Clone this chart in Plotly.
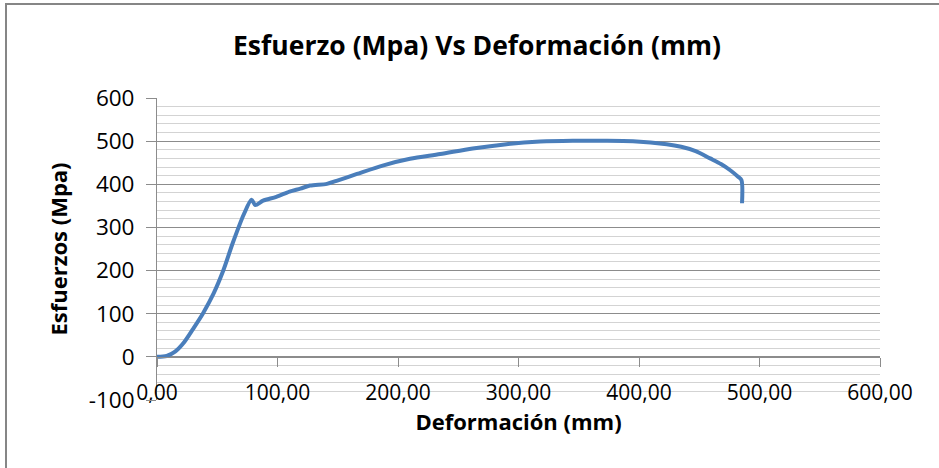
import plotly.graph_objects as go

# Stress-strain curve of the tensile test
deformacion_mm = [0, 8, 15, 22, 30, 38, 47, 55, 63, 72, 78.5, 81.5, 88, 99, 110, 119,
                  127, 141, 149, 166, 188, 210, 235, 262, 290, 318, 345, 368, 395,
                  423, 435, 447, 459, 468, 476, 482, 485, 485.5]
esfuerzo_mpa = [0, 2, 12, 32, 65, 100, 147, 200, 265, 330, 364, 352, 362, 371, 383, 390,
                397, 401, 408, 424, 444, 459, 470, 483, 493, 499, 501, 501, 500,
                493, 487, 477, 460, 447, 432, 418, 410, 356]

x_ticks = [0, 100, 200, 300, 400, 500, 600]
y_ticks = [-100, 0, 100, 200, 300, 400, 500, 600]
y_tick_labels = [str(v) for v in y_ticks]

W, H = 939, 468
ML, MR, MT, MB = 157, 59, 98, 68
pw, ph = W - ML - MR, H - MT - MB

FONT = "Open Sans"
AXIS_GRAY = "#8c8c8c"
MINOR_GRAY = "#d3d3d3"

fig = go.Figure()
fig.add_trace(go.Scatter(
    x=deformacion_mm, y=esfuerzo_mpa, mode="lines",
    line=dict(color="#4a7ebb", width=4, shape="spline", smoothing=0.8),
    showlegend=False, hoverinfo="x+y",
))
# empty trace so the crossing axis at y = 0 gets its own subplot
fig.add_trace(go.Scatter(x=[], y=[], xaxis="x2", yaxis="y", showlegend=False,
                         hoverinfo="skip"))

y0_frac = (0 - y_ticks[0]) / (y_ticks[-1] - y_ticks[0])
# tick labels of the horizontal axis sit just above the bottom edge
label_frac = 22 / ph

fig.update_layout(
    width=W, height=H,
    margin=dict(l=ML, r=MR, t=MT, b=MB),
    paper_bgcolor="white", plot_bgcolor="white",
    separators=",.",
    font=dict(family=FONT, size=21, color="#000000"),
    title=dict(text="<b>Esfuerzo (Mpa) Vs Deformación (mm)</b>",
               x=477 / W, xref="container", xanchor="center",
               y=1 - 46 / H, yref="container", yanchor="middle",
               font=dict(family=FONT, size=26.5, color="#000000")),
    xaxis=dict(range=[x_ticks[0], x_ticks[-1]], tickvals=x_ticks, tickformat=".2f",
               anchor="free", position=label_frac,
               ticks="", showgrid=False, zeroline=False,
               showline=False, tickfont=dict(size=21),
               title=dict(text="<b>Deformación (mm)</b>", standoff=6,
                          font=dict(size=22))),
    xaxis2=dict(range=[x_ticks[0], x_ticks[-1]], overlaying="x", anchor="free",
                position=y0_frac, showline=True, linecolor=AXIS_GRAY, linewidth=1,
                ticks="outside", ticklen=9, tickcolor=AXIS_GRAY, tickwidth=1,
                tickvals=x_ticks, showticklabels=False, showgrid=False,
                zeroline=False),
    yaxis=dict(range=[y_ticks[0], y_ticks[-1]], tickvals=y_ticks,
               ticktext=y_tick_labels,
               showgrid=True, gridcolor=AXIS_GRAY, gridwidth=1,
               minor=dict(dtick=20, showgrid=True, gridcolor=MINOR_GRAY, gridwidth=1,
                          ticks=""),
               showline=True, linecolor=AXIS_GRAY, linewidth=1,
               ticks="outside", ticklen=10, tickcolor=AXIS_GRAY, tickwidth=1,
               ticklabelstandoff=7,
               zeroline=False, tickfont=dict(size=22.5),
               title=dict(text="<b>Esfuerzos (Mpa)</b>", standoff=14,
                          font=dict(size=22))),
    shapes=[dict(type="rect", xref="paper", yref="paper",
                 x0=(6 - ML) / pw, x1=(W + 200 - ML) / pw,
                 y0=-(MB + 200) / ph, y1=(H - MB - 4) / ph,
                 line=dict(color="#868686", width=2), fillcolor="rgba(0,0,0,0)",
                 layer="below")],
)

fig.write_html("out.html", config={"displayModeBar": False})
